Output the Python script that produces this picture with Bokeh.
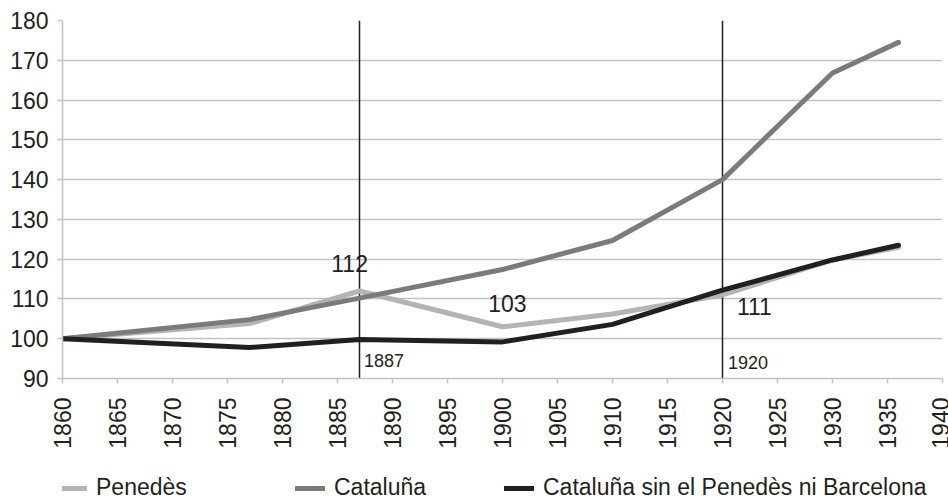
import math
from bokeh.plotting import figure
from bokeh.layouts import column
from bokeh.models import FixedTicker, Legend, LegendItem, ColumnDataSource, Range1d
from bokeh.core.properties import value
from bokeh.embed import file_html
from bokeh.resources import INLINE

# ---- data ----
years = [1860, 1877, 1887, 1900, 1910, 1920, 1930, 1936]
penedes = [100, 103.8, 112, 103, 106.2, 111, 119.8, 123]
cataluna = [100, 104.8, 110.2, 117.4, 124.7, 140, 166.8, 174.5]
resto = [100, 97.8, 99.8, 99.2, 103.6, 112.2, 119.8, 123.5]
series_names = ["Penedès", "Cataluña", "Cataluña sin el Penedès ni Barcelona"]
event_years = [1887, 1920]
event_labels = ["1887", "1920"]
value_labels = ["112", "103", "111"]
value_label_years = [1886.1, 1900.45, 1922.9]
value_label_vals = [118.8, 108.9, 108.0]
y_ticks = list(range(90, 181, 10))
x_ticks = list(range(1860, 1941, 5))

FONT = "Liberation Sans"
TXT = "#231f20"
GRID = "#c2c2c2"
colors = ["#b4b4b4", "#7b7b7b", "#231f20"]
all_series = [penedes, cataluna, resto]

p = figure(width=948, height=460, output_backend="svg", toolbar_location=None,
           x_range=Range1d(1860, 1940), y_range=Range1d(90, 180),
           min_border_left=62, min_border_right=6, min_border_top=20,
           min_border_bottom=82)
p.outline_line_color = None
p.xgrid.grid_line_color = None
p.ygrid.grid_line_color = GRID
p.ygrid.grid_line_width = 1.5
p.ygrid.ticker = FixedTicker(ticks=y_ticks)

for ax in (p.xaxis[0], p.yaxis[0]):
    ax.axis_line_color = GRID
    ax.axis_line_width = 1.5
    ax.major_tick_line_color = GRID
    ax.major_tick_line_width = 1.5
    ax.major_tick_out = 5
    ax.major_tick_in = 0
    ax.minor_tick_line_color = None
    ax.major_label_text_font = FONT
    ax.major_label_text_font_size = "23px"
    ax.major_label_text_color = TXT

p.yaxis[0].ticker = FixedTicker(ticks=y_ticks)
p.yaxis[0].major_label_standoff = 9
p.xaxis[0].ticker = FixedTicker(ticks=x_ticks)
p.xaxis[0].major_label_orientation = math.pi / 2
p.xaxis[0].major_label_standoff = 14

# event vertical lines
p.segment(x0=event_years, x1=event_years, y0=[90] * len(event_years),
          y1=[180] * len(event_years), line_color="#231f20", line_width=1.5)

for vals, c in zip(all_series, colors):
    p.line(years, vals, line_color=c, line_width=5, line_join="round", line_cap="round")

# value annotations
src = ColumnDataSource(dict(x=value_label_years, y=value_label_vals, t=value_labels))
p.text(x="x", y="y", text="t", source=src, text_font=value(FONT), text_font_size="23px",
       text_color=TXT, text_align="center", text_baseline="middle")

# event year labels
src2 = ColumnDataSource(dict(x=[event_years[0] + 0.4, event_years[1] + 0.5], y=[94.6, 94.1], t=event_labels))
p.text(x="x", y="y", text="t", source=src2, text_font=value(FONT), text_font_size="18px",
       text_color=TXT, text_align="left", text_baseline="middle")

# legend strip (separate small figure so items can be freely positioned);
# its ranges exclude the data, so the lines only show as legend samples
lf = figure(width=948, height=41, output_backend="svg", toolbar_location=None,
            x_range=Range1d(0, 1), y_range=Range1d(0, 1),
            min_border_left=62, min_border_right=6, min_border_top=0, min_border_bottom=0)
lf.axis.visible = False
lf.grid.visible = False
lf.outline_line_color = None
leg_x = [-5, 233, 442]
for name, vals, c, lx in zip(series_names, all_series, colors, leg_x):
    r = lf.line(years, vals, line_color=c, line_width=5, line_cap="round")
    lg = Legend(items=[LegendItem(label=name, renderers=[r])], location=(lx, 0),
                orientation="horizontal", glyph_width=30, glyph_height=20,
                label_standoff=9, padding=0, margin=0, spacing=0,
                border_line_alpha=0, background_fill_alpha=0,
                label_text_font=FONT, label_text_font_size="23px",
                label_text_color=TXT)
    lf.add_layout(lg, "center")

layout = column(p, lf, spacing=0)
open("out.html", "w").write(file_html(layout, INLINE))
